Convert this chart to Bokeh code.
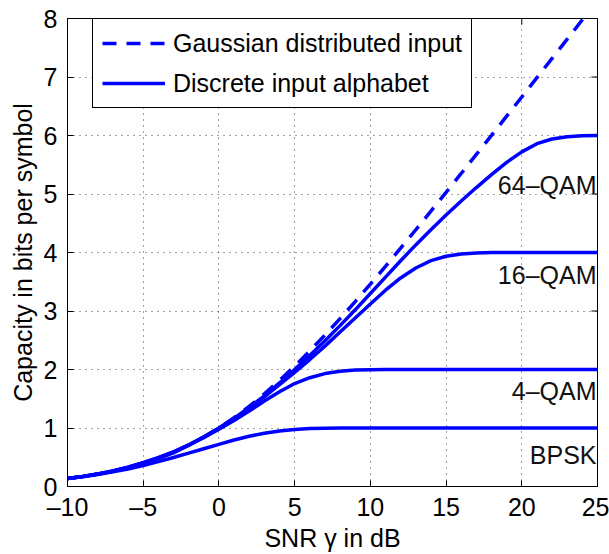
from bokeh.plotting import figure
from bokeh.models import Range1d, Legend, LegendItem, FixedTicker
from bokeh.core.properties import value
from bokeh.embed import file_html
from bokeh.resources import INLINE

# ---- data ----
snr_db = list(range(-10, 26))
gaussian = [0.137, 0.171, 0.212, 0.263, 0.323, 0.396, 0.482, 0.586, 0.706, 0.844,
            1.000, 1.176, 1.370, 1.583, 1.812, 2.057, 2.317, 2.588, 2.870, 3.161,
            3.459, 3.764, 4.075, 4.389, 4.707, 5.028, 5.351, 5.676, 6.002, 6.330,
            6.658, 6.988, 7.317, 7.648, 7.978, 8.309]
bpsk = [0.135, 0.165, 0.205, 0.250, 0.300, 0.360, 0.425, 0.495, 0.570, 0.645,
        0.720, 0.795, 0.860, 0.910, 0.950, 0.975, 0.990, 0.996, 0.999, 1.000,
        1.000, 1.000, 1.000, 1.000, 1.000, 1.000, 1.000, 1.000, 1.000, 1.000,
        1.000, 1.000, 1.000, 1.000, 1.000, 1.000]
qam4 = [0.137, 0.171, 0.212, 0.262, 0.325, 0.400, 0.480, 0.575, 0.705, 0.835,
        0.980, 1.130, 1.290, 1.460, 1.620, 1.760, 1.860, 1.930, 1.970, 1.990,
        1.997, 2.000, 2.000, 2.000, 2.000, 2.000, 2.000, 2.000, 2.000, 2.000,
        2.000, 2.000, 2.000, 2.000, 2.000, 2.000]
qam16 = [0.137, 0.172, 0.214, 0.266, 0.330, 0.408, 0.492, 0.590, 0.708, 0.845,
         0.995, 1.160, 1.340, 1.530, 1.740, 1.950, 2.170, 2.400, 2.640, 2.880,
         3.120, 3.355, 3.565, 3.735, 3.860, 3.935, 3.975, 3.992, 3.998, 4.000,
         4.000, 4.000, 4.000, 4.000, 4.000, 4.000]
qam64 = [0.137, 0.172, 0.214, 0.266, 0.330, 0.408, 0.493, 0.592, 0.710, 0.848,
         1.000, 1.165, 1.350, 1.550, 1.770, 2.000, 2.240, 2.490, 2.750, 3.020,
         3.300, 3.580, 3.860, 4.130, 4.390, 4.640, 4.880, 5.110, 5.330, 5.540,
         5.720, 5.860, 5.940, 5.980, 5.995, 6.000]
x_ticks = [-10, -5, 0, 5, 10, 15, 20, 25]
y_ticks = [0, 1, 2, 3, 4, 5, 6, 7, 8]
curve_labels = ["64\u2013QAM", "16\u2013QAM", "4\u2013QAM", "BPSK"]
legend_labels = ["Gaussian distributed input", "Discrete input alphabet"]

# annotation anchor heights for curve labels
label_y = [5.16, 3.62, 1.63, 0.53]

FONT = "Liberation Sans"
BLUE = "#0000ff"
X0, X1, Y0, Y1 = -10, 25, 0, 8
FW, FH = 530, 471  # frame size in px

p = figure(width=609, height=554, x_range=Range1d(X0, X1), y_range=Range1d(Y0, Y1),
           output_backend="svg", toolbar_location=None,
           min_border_left=67, min_border_right=12, min_border_top=18, min_border_bottom=65)
p.background_fill_color = "white"
p.border_fill_color = "white"
p.outline_line_color = "black"
p.outline_line_width = 1
p.outline_line_alpha = 1

for ax in (p.xaxis[0], p.yaxis[0]):
    ax.axis_line_color = "black"
    ax.major_tick_in = 6
    ax.major_tick_out = 0
    ax.minor_tick_line_color = None
    ax.major_label_text_font = FONT
    ax.major_label_text_font_size = "25px"
    ax.major_label_text_color = "black"
    ax.axis_label_text_font = FONT
    ax.axis_label_text_font_size = "25px"
    ax.axis_label_text_font_style = "normal"
    ax.axis_label_text_color = "black"

p.xaxis.ticker = FixedTicker(ticks=x_ticks)
p.yaxis.ticker = FixedTicker(ticks=y_ticks)
p.xaxis.major_label_overrides = {t: (str(t).replace("-", "\u2013")) for t in x_ticks}
p.xaxis.axis_label = "SNR \u03b3 in dB"
p.yaxis.axis_label = "Capacity in bits per symbol"
p.xaxis.major_label_standoff = 6
p.xaxis.axis_label_standoff = 0
p.yaxis.major_label_standoff = 10
p.yaxis.axis_label_standoff = 4

# inward tick marks on the top and right edges of the box (derived from tick lists)
tick_dy = 6 * (Y1 - Y0) / FH
tick_dx = 6 * (X1 - X0) / FW
p.segment(x0=x_ticks, y0=[Y1] * len(x_ticks), x1=x_ticks, y1=[Y1 - tick_dy] * len(x_ticks),
          line_color="black", line_width=1)
p.segment(x0=[X1] * len(y_ticks), y0=y_ticks, x1=[X1 - tick_dx] * len(y_ticks), y1=y_ticks,
          line_color="black", line_width=1)

for g in (p.xgrid[0], p.ygrid[0]):
    g.grid_line_color = "#333333"
    g.grid_line_dash = "1 5"
    g.grid_line_width = 1
    g.grid_line_alpha = 0.9
p.xgrid.ticker = FixedTicker(ticks=x_ticks)
p.ygrid.ticker = FixedTicker(ticks=y_ticks)

r_gauss = p.line(snr_db, gaussian, line_color=BLUE, line_width=3.5, line_dash="14 10")
r_bpsk = p.line(snr_db, bpsk, line_color=BLUE, line_width=3.5)
p.line(snr_db, qam4, line_color=BLUE, line_width=3.5)
p.line(snr_db, qam16, line_color=BLUE, line_width=3.5)
p.line(snr_db, qam64, line_color=BLUE, line_width=3.5)

p.text(x=[X1] * len(curve_labels), y=label_y, text=curve_labels,
       text_align="right", text_baseline="middle", text_font=value(FONT),
       text_font_size="25px", text_color="#111111", x_offset=-1)

legend = Legend(items=[LegendItem(label=legend_labels[0], renderers=[r_gauss]),
                       LegendItem(label=legend_labels[1], renderers=[r_bpsk])],
                location=(25, 378))
legend.label_text_font = FONT
legend.label_text_font_size = "25px"
legend.label_text_color = "black"
legend.glyph_width = 63
legend.glyph_height = 30
legend.label_height = 30
legend.spacing = 10
legend.padding = 9
legend.margin = 0
legend.label_standoff = 8
legend.border_line_color = "black"
legend.border_line_width = 1
legend.border_line_alpha = 1
legend.background_fill_alpha = 1
p.add_layout(legend)

open("out.html", "w").write(file_html(p, INLINE))
